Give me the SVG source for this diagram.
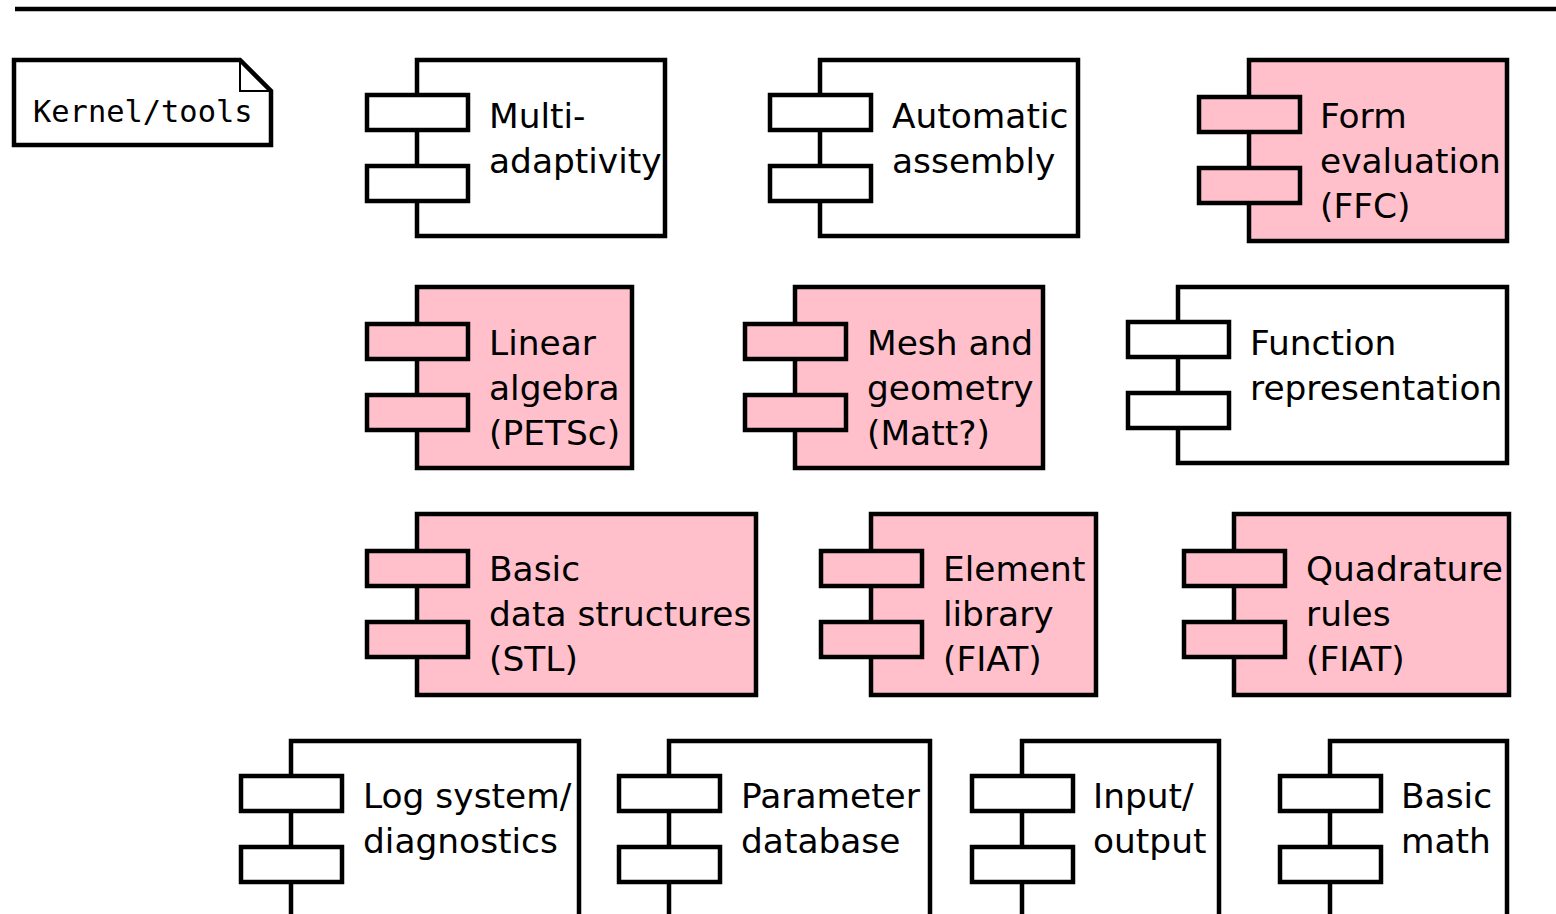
<svg xmlns="http://www.w3.org/2000/svg" width="1556" height="914" viewBox="0 0 1556 914">
<defs>
<style>
.b{stroke:#000;stroke-width:4.5;fill:#fff}
.p{stroke:#000;stroke-width:4.5;fill:#ffc0cb}
.t{font-family:"DejaVu Sans",sans-serif;font-size:34.4px;fill:#000}
.m{font-family:"DejaVu Sans Mono",monospace;font-size:30.4px;fill:#000}
</style>
</defs>
<rect width="1556" height="914" fill="#fff"/>
<line x1="15" y1="9" x2="1556" y2="9" stroke="#000" stroke-width="4.5"/>
<g id="note">
<path class="b" d="M14,60 H240 L271,91 V145 H14 Z"/>
<path d="M240,60 V91 H271" fill="none" stroke="#000" stroke-width="2"/>
<text class="m" x="33" y="122">Kernel/tools</text>
</g>
<g id="connectors"/>
<g id="multi">
<rect class="b" x="417" y="60" width="248" height="176"/>
<rect class="b" x="367" y="95" width="101" height="35"/>
<rect class="b" x="367" y="166" width="101" height="35"/>
<text class="t" x="489" y="128">Multi-</text><text class="t" x="489" y="173">adaptivity</text>
</g>
<g id="assembly">
<rect class="b" x="820" y="60" width="258" height="176"/>
<rect class="b" x="770" y="95" width="101" height="35"/>
<rect class="b" x="770" y="166" width="101" height="35"/>
<text class="t" x="892" y="128">Automatic</text><text class="t" x="892" y="173">assembly</text>
</g>
<g id="ffc">
<rect class="p" x="1249" y="60" width="258" height="181"/>
<rect class="p" x="1199" y="97" width="101" height="35"/>
<rect class="p" x="1199" y="168" width="101" height="35"/>
<text class="t" x="1320" y="128">Form</text><text class="t" x="1320" y="173">evaluation</text><text class="t" x="1320" y="218">(FFC)</text>
</g>
<g id="petsc">
<rect class="p" x="417" y="287" width="215" height="181"/>
<rect class="p" x="367" y="324" width="101" height="35"/>
<rect class="p" x="367" y="395" width="101" height="35"/>
<text class="t" x="489" y="355">Linear</text><text class="t" x="489" y="400">algebra</text><text class="t" x="489" y="445">(PETSc)</text>
</g>
<g id="mesh">
<rect class="p" x="795" y="287" width="248" height="181"/>
<rect class="p" x="745" y="324" width="101" height="35"/>
<rect class="p" x="745" y="395" width="101" height="35"/>
<text class="t" x="867" y="355">Mesh and</text><text class="t" x="867" y="400">geometry</text><text class="t" x="867" y="445">(Matt?)</text>
</g>
<g id="function">
<rect class="b" x="1178" y="287" width="329" height="176"/>
<rect class="b" x="1128" y="322" width="101" height="35"/>
<rect class="b" x="1128" y="393" width="101" height="35"/>
<text class="t" x="1250" y="355">Function</text><text class="t" x="1250" y="400">representation</text>
</g>
<g id="stl">
<rect class="p" x="417" y="514" width="339" height="181"/>
<rect class="p" x="367" y="551" width="101" height="35"/>
<rect class="p" x="367" y="622" width="101" height="35"/>
<text class="t" x="489" y="581">Basic</text><text class="t" x="489" y="626">data structures</text><text class="t" x="489" y="671">(STL)</text>
</g>
<g id="element">
<rect class="p" x="871" y="514" width="225" height="181"/>
<rect class="p" x="821" y="551" width="101" height="35"/>
<rect class="p" x="821" y="622" width="101" height="35"/>
<text class="t" x="943" y="581">Element</text><text class="t" x="943" y="626">library</text><text class="t" x="943" y="671">(FIAT)</text>
</g>
<g id="quadrature">
<rect class="p" x="1234" y="514" width="275" height="181"/>
<rect class="p" x="1184" y="551" width="101" height="35"/>
<rect class="p" x="1184" y="622" width="101" height="35"/>
<text class="t" x="1306" y="581">Quadrature</text><text class="t" x="1306" y="626">rules</text><text class="t" x="1306" y="671">(FIAT)</text>
</g>
<g id="log">
<rect class="b" x="291" y="741" width="288" height="176"/>
<rect class="b" x="241" y="776" width="101" height="35"/>
<rect class="b" x="241" y="847" width="101" height="35"/>
<text class="t" x="363" y="808">Log system/</text><text class="t" x="363" y="853">diagnostics</text>
</g>
<g id="param">
<rect class="b" x="669" y="741" width="261" height="176"/>
<rect class="b" x="619" y="776" width="101" height="35"/>
<rect class="b" x="619" y="847" width="101" height="35"/>
<text class="t" x="741" y="808">Parameter</text><text class="t" x="741" y="853">database</text>
</g>
<g id="io">
<rect class="b" x="1022" y="741" width="197" height="176"/>
<rect class="b" x="972" y="776" width="101" height="35"/>
<rect class="b" x="972" y="847" width="101" height="35"/>
<text class="t" x="1093" y="808">Input/</text><text class="t" x="1093" y="853">output</text>
</g>
<g id="math">
<rect class="b" x="1330" y="741" width="177" height="176"/>
<rect class="b" x="1280" y="776" width="101" height="35"/>
<rect class="b" x="1280" y="847" width="101" height="35"/>
<text class="t" x="1401" y="808">Basic</text><text class="t" x="1401" y="853">math</text>
</g>
</svg>
